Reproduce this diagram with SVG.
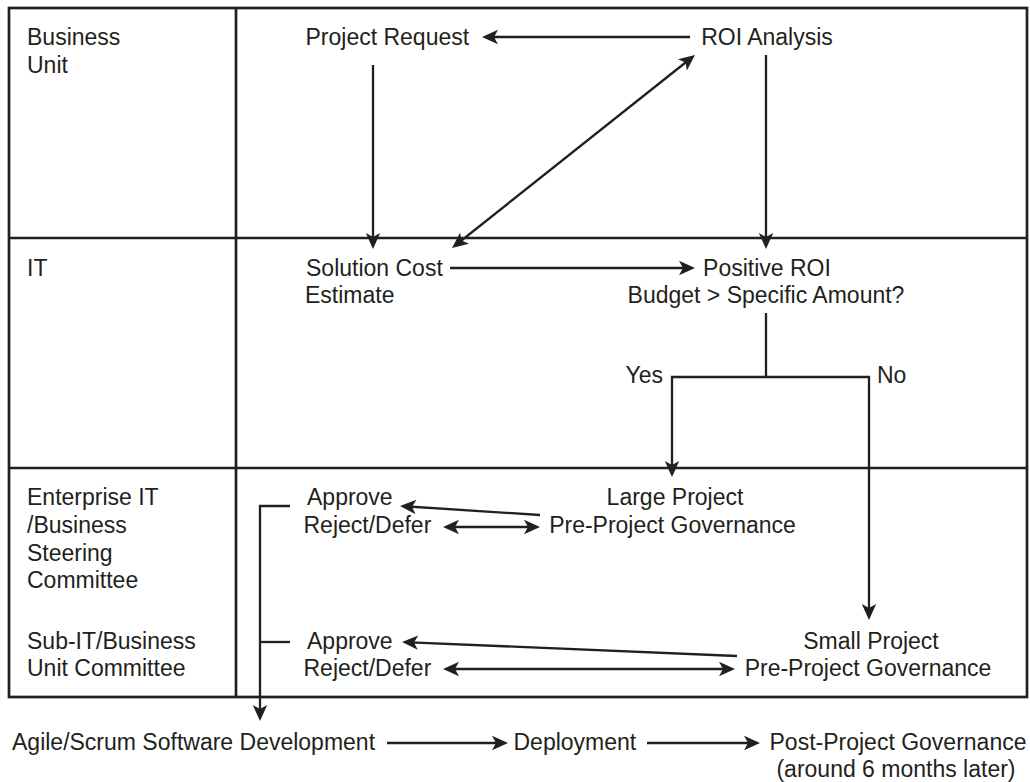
<svg xmlns="http://www.w3.org/2000/svg" width="1030" height="782" viewBox="0 0 1030 782">
  <style>
    .frame { fill: none; stroke: #231f20; stroke-width: 2.7; }
    .wire { fill: none; stroke: #231f20; stroke-width: 2.3; }
    .arr { marker-end: url(#head); }
    .arr2 { marker-start: url(#head); marker-end: url(#head); }
    text { font-family: "Liberation Sans", Arial, Helvetica, sans-serif; font-size: 23px; fill: #231f20; }
    .mid { text-anchor: middle; }
    .end { text-anchor: end; }
  </style>
  <defs>
    <marker id="head" viewBox="0 0 20 16" refX="11" refY="8" markerWidth="20" markerHeight="16" markerUnits="userSpaceOnUse" orient="auto-start-reverse">
      <path d="M19,8 L3,0.8 L7,8 L3,15.2 Z" fill="#231f20"/>
    </marker>
  </defs>

  <rect width="1030" height="782" fill="#ffffff"/>

  <!-- swimlane frame -->
  <g id="lanes">
    <rect class="frame" x="9" y="8" width="1018" height="689"/>
    <line class="frame" x1="236" y1="8" x2="236" y2="697"/>
    <line class="frame" x1="9" y1="238" x2="1027" y2="238"/>
    <line class="frame" x1="9" y1="468" x2="1027" y2="468"/>
  </g>

  <!-- lane titles -->
  <g id="lane-business">
    <text x="27" y="45">Business</text>
    <text x="27" y="73">Unit</text>
  </g>
  <g id="lane-it">
    <text x="27" y="276">IT</text>
  </g>
  <g id="lane-committees">
    <text x="27" y="505">Enterprise IT</text>
    <text x="27" y="533">/Business</text>
    <text x="27" y="561">Steering</text>
    <text x="27" y="588">Committee</text>
    <text x="27" y="649">Sub-IT/Business</text>
    <text x="27" y="676">Unit Committee</text>
  </g>

  <!-- process steps -->
  <g id="project-request"><text x="305.5" y="45">Project Request</text></g>
  <g id="roi-analysis"><text class="mid" x="767" y="45">ROI Analysis</text></g>
  <g id="solution-cost">
    <text x="306" y="276">Solution Cost</text>
    <text x="305" y="303">Estimate</text>
  </g>
  <g id="positive-roi">
    <text class="mid" x="767" y="276">Positive ROI</text>
    <text class="mid" x="766" y="303">Budget &gt; Specific Amount?</text>
  </g>
  <g id="large-project">
    <text class="mid" x="675" y="505">Large Project</text>
    <text class="mid" x="672.5" y="533">Pre-Project Governance</text>
  </g>
  <g id="large-decision">
    <text x="307" y="505">Approve</text>
    <text x="303.5" y="533">Reject/Defer</text>
  </g>
  <g id="small-project">
    <text class="mid" x="871" y="649">Small Project</text>
    <text class="mid" x="868" y="676">Pre-Project Governance</text>
  </g>
  <g id="small-decision">
    <text x="307" y="649">Approve</text>
    <text x="303.5" y="676">Reject/Defer</text>
  </g>
  <g id="development"><text x="12" y="750">Agile/Scrum Software Development</text></g>
  <g id="deployment"><text x="513.5" y="750">Deployment</text></g>
  <g id="post-governance">
    <text class="mid" x="898" y="750">Post-Project Governance</text>
    <text class="mid" x="896" y="777">(around 6 months later)</text>
  </g>

  <!-- connectors -->
  <g id="connectors">
    <line class="wire arr" x1="690" y1="37" x2="490" y2="37"/>
    <line class="wire arr" x1="373" y1="65" x2="373" y2="241"/>
    <line class="wire arr2" x1="458.3" y1="243" x2="688.7" y2="60"/>
    <line class="wire arr" x1="766" y1="55" x2="766" y2="241"/>
    <line class="wire arr" x1="450" y1="268" x2="687" y2="268"/>
    <line class="wire" x1="766" y1="313" x2="766" y2="377"/>
    <path class="wire arr" d="M766,377 H672 V469"/>
    <path class="wire arr" d="M766,377 H869 V612"/>
    <text class="end" x="663" y="383">Yes</text>
    <text x="877" y="383">No</text>
    <line class="wire arr" x1="540" y1="515" x2="408" y2="506.5"/>
    <line class="wire arr2" x1="451" y1="527" x2="532" y2="527"/>
    <line class="wire arr" x1="737" y1="656" x2="410" y2="642.3"/>
    <line class="wire arr2" x1="451" y1="669" x2="727" y2="669"/>
    <path class="wire arr" d="M290,506 H260 V713"/>
    <line class="wire" x1="290" y1="642" x2="260" y2="642"/>
    <line class="wire arr" x1="387" y1="743" x2="500" y2="743"/>
    <line class="wire arr" x1="647" y1="743" x2="752" y2="743"/>
  </g>
</svg>
